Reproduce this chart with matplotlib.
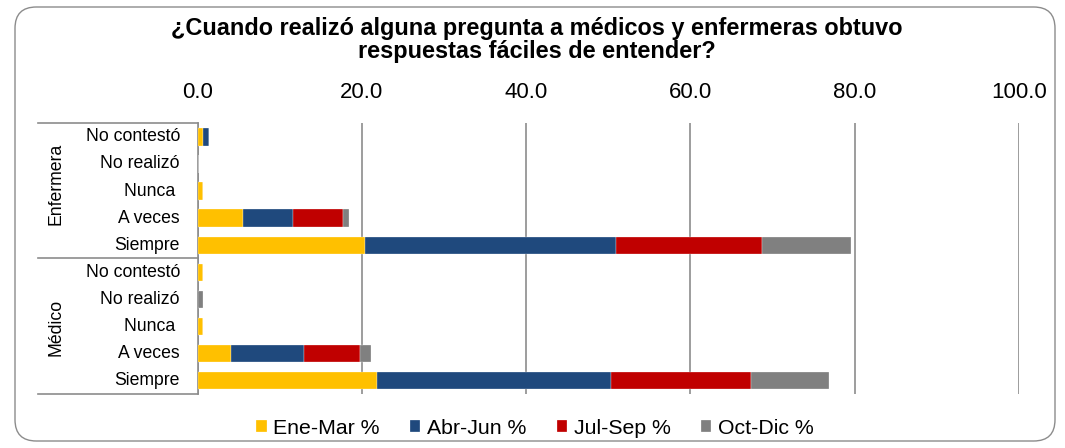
import matplotlib
matplotlib.use("Agg")
import matplotlib.pyplot as plt
from matplotlib.patches import FancyBboxPatch
from matplotlib.lines import Line2D
import numpy as np

plt.rcParams['font.family'] = ['Liberation Sans', 'DejaVu Sans']

title = "¿Cuando realizó alguna pregunta a médicos y enfermeras obtuvo\nrespuestas fáciles de entender?"
groups = ["Enfermera", "Médico"]
categories = ["No contestó", "No realizó", "Nunca ", "A veces", "Siempre"]
series_names = ["Ene-Mar %", "Abr-Jun %", "Jul-Sep %", "Oct-Dic %"]
colors = ["#FFC000", "#1F497D", "#C00000", "#808080"]

# values per row: Enfermera (5 rows) then Médico (5 rows)
ene_mar = [0.7, 0.0, 0.7, 5.5, 20.4, 0.7, 0.0, 0.7, 4.1, 21.8]
abr_jun = [0.7, 0.0, 0.0, 6.1, 30.6, 0.0, 0.0, 0.0, 8.8, 28.6]
jul_sep = [0.0, 0.0, 0.0, 6.1, 17.7, 0.0, 0.0, 0.0, 6.9, 17.0]
oct_dic = [0.0, 0.0, 0.0, 0.7, 10.9, 0.0, 0.7, 0.0, 1.3, 9.5]
xticks = [0, 20, 40, 60, 80, 100]

W, H = 1065, 448
fig = plt.figure(figsize=(W / 100, H / 100), dpi=100)

# rounded border
border = FancyBboxPatch((15 / W, 7 / H), (1055 - 15) / W, (441 - 7) / H,
                        boxstyle="round,pad=0,rounding_size=0.02",
                        transform=fig.transFigure, facecolor="none",
                        edgecolor="#8C8C8C", linewidth=1.0, mutation_aspect=W / H,
                        zorder=-5)
fig.patches.append(border)

left, right = 197.7 / W, 1018.7 / W
top, bottom = 1 - 123.3 / H, 1 - 394.3 / H
ax = fig.add_axes([left, bottom, right - left, top - bottom])
ax.set_facecolor("none")

n = len(groups) * len(categories)
y = np.arange(n)
data = [ene_mar, abr_jun, jul_sep, oct_dic]
lefts = np.zeros(n)
for vals, col, name in zip(data, colors, series_names):
    vals = np.array(vals)
    ax.barh(y, vals, left=lefts, height=0.64, color=col, label=name,
            edgecolor="white", linewidth=0.2, zorder=3)
    lefts += vals

ax.set_xlim(0, 100)
ax.set_ylim(n - 0.5, -0.5)
ax.set_xticks(xticks)
ax.set_xticklabels([f"{v:.1f}" for v in xticks], fontsize=16)
ax.xaxis.tick_top()
ax.tick_params(axis='x', length=0, pad=14.5)
ax.set_yticks([])
ax.grid(axis='x', color="#8C8C8C", linewidth=1.2, zorder=0)
for s in ["top", "right", "bottom"]:
    ax.spines[s].set_visible(False)
ax.spines["left"].set_color("#8C8C8C")
ax.spines["left"].set_linewidth(1.2)

# category labels
for gi, g in enumerate(groups):
    for ci, c in enumerate(categories):
        row = gi * len(categories) + ci
        ax.text(-17.7 / 8.21, row, c, ha="right", va="center", fontsize=12.7,
                clip_on=False)
group_rows = [1.75, 7.05]
for g, r in zip(groups, group_rows):
    ax.text((56 - 197.7) / 8.21, r, g, ha="center", va="center",
            rotation=90, fontsize=12.7, clip_on=False)

# group separator lines
for yy in [123.3, 258.3, 394.3]:
    fig.add_artist(Line2D([38 / W, left], [1 - yy / H, 1 - yy / H],
                          color="#8C8C8C", linewidth=1.2, transform=fig.transFigure))

fig.text(537 / W, 1 - 40 / H, title, ha="center", va="center",
         fontsize=16.9, fontweight="bold", linespacing=0.98)

handles, labels = ax.get_legend_handles_labels()
fig.legend(handles, labels, loc="center", bbox_to_anchor=(535 / W, 1 - 428 / H),
           ncol=4, frameon=False, fontsize=15.3, handlelength=0.48, handleheight=0.48,
           handletextpad=0.3, columnspacing=1.45)

fig.savefig("out.png", dpi=100)
